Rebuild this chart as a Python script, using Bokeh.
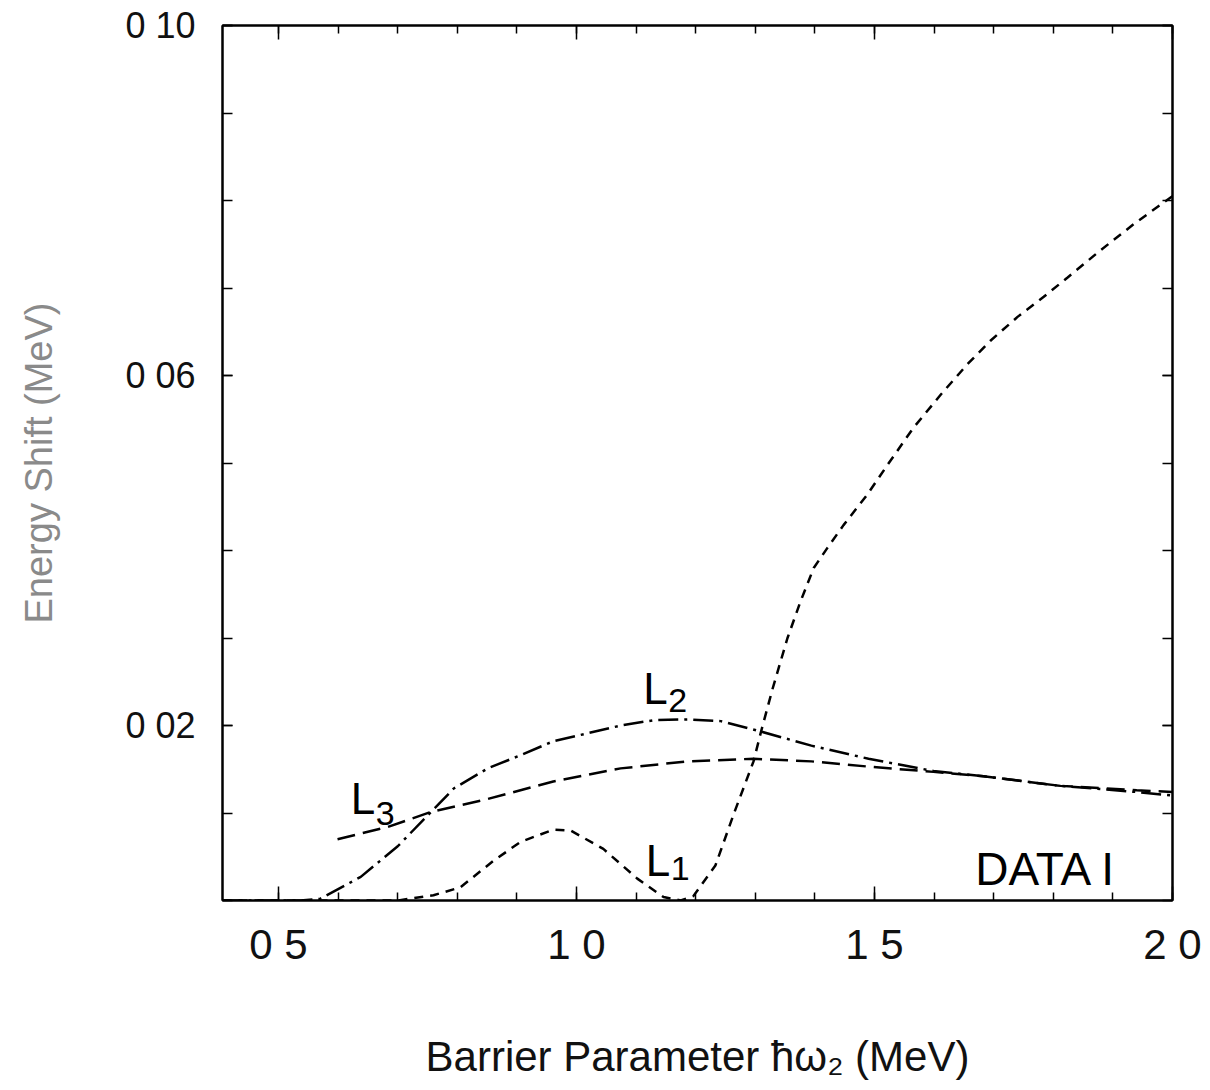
from bokeh.plotting import figure
from bokeh.models import FixedTicker, LinearAxis, Label, Range1d
from bokeh.embed import file_html
from bokeh.resources import INLINE

# ---- data ----
l1_x = [0.406, 0.70, 0.76, 0.805, 0.86, 0.906, 0.961, 0.99, 1.045, 1.102, 1.146, 1.175,
        1.196, 1.233, 1.265, 1.297, 1.31, 1.329, 1.354, 1.376, 1.398, 1.421, 1.448, 1.488,
        1.522, 1.565, 1.611, 1.656, 1.695, 1.74, 1.784, 1.824, 1.879, 1.935, 2.0]
l1_y = [0.0, 0.0, 0.0006, 0.0015, 0.0045, 0.0067, 0.0081, 0.0080, 0.0059, 0.0025, 0.0004, 0.0,
        0.0005, 0.0040, 0.0101, 0.0159, 0.0194, 0.0242, 0.0300, 0.0342, 0.0380, 0.0403, 0.0429, 0.0464,
        0.0498, 0.0540, 0.0578, 0.0613, 0.0640, 0.0667, 0.0690, 0.0712, 0.0743, 0.0773, 0.0805]

l2_x = [0.406, 0.537, 0.570, 0.638, 0.700, 0.750, 0.794, 0.851, 0.906, 0.961, 1.018, 1.074,
        1.129, 1.186, 1.242, 1.310, 1.394, 1.490, 1.599, 1.683, 1.812, 1.940, 2.0]
l2_y = [0.0, 0.0, 0.0002, 0.0027, 0.0062, 0.0097, 0.0128, 0.0151, 0.0166, 0.0182, 0.0191, 0.0200,
        0.0206, 0.0207, 0.0205, 0.0193, 0.0177, 0.0162, 0.0148, 0.0142, 0.0131, 0.0124, 0.0120]

l3_x = [0.599, 0.683, 0.755, 0.851, 0.961, 1.074, 1.186, 1.297, 1.394, 1.490, 1.599, 1.683,
        1.812, 1.940, 2.0]
l3_y = [0.0070, 0.0084, 0.0101, 0.0116, 0.0136, 0.0151, 0.0159, 0.0162, 0.0159, 0.0153, 0.0147, 0.0142,
        0.0131, 0.0126, 0.0124]

x_major = [0.5, 1.0, 1.5, 2.0]
x_labels = ["0 5", "1 0", "1 5", "2 0"]
x_minor = [round(0.4 + 0.1 * i, 2) for i in range(17)]
y_major = [0.02, 0.06, 0.10]
y_labels = ["0 02", "0 06", "0 10"]
y_minor = [round(0.01 * i, 2) for i in range(11)]

FONT = "Liberation Sans"

p = figure(frame_width=950, frame_height=875,
           x_range=Range1d(0.406, 2.0), y_range=Range1d(0.0, 0.1),
           min_border_left=222, min_border_right=30, min_border_top=25, min_border_bottom=170,
           output_backend="svg", toolbar_location=None,
           background_fill_color="white", border_fill_color="white")
p.grid.visible = False
p.outline_line_color = "black"
p.outline_line_width = 2

p.line(l1_x, l1_y, line_color="black", line_width=2.5, line_dash="9 7")
p.line(l2_x, l2_y, line_color="black", line_width=2.5, line_dash="20 6 3 6")
p.line(l3_x, l3_y, line_color="black", line_width=2.5, line_dash="18 8")

def style_axis(ax, ticker, major_in, minor_in):
    ax.ticker = ticker
    ax.axis_line_color = "black"
    ax.axis_line_width = 2
    ax.major_tick_in = major_in
    ax.major_tick_out = 0
    ax.minor_tick_in = minor_in
    ax.minor_tick_out = 0
    ax.major_tick_line_width = 1.5
    ax.minor_tick_line_width = 1.5
    ax.major_tick_line_color = "black"
    ax.minor_tick_line_color = "black"

xa = p.xaxis[0]
style_axis(xa, FixedTicker(ticks=x_major, minor_ticks=x_minor), 14, 8)
xa.major_label_overrides = {t: l for t, l in zip(x_major, x_labels)}
xa.major_label_text_font = FONT
xa.major_label_text_font_size = "42px"
xa.major_label_text_color = "#111111"
xa.major_label_standoff = 20
xa.axis_label = "Barrier Parameter ħω₂ (MeV)"
xa.axis_label_text_font = FONT
xa.axis_label_text_font_size = "42px"
xa.axis_label_text_font_style = "normal"
xa.axis_label_text_color = "#111111"
xa.axis_label_standoff = 62

ya = p.yaxis[0]
style_axis(ya, FixedTicker(ticks=y_major, minor_ticks=y_minor), 10, 10)
ya.major_label_overrides = {t: l for t, l in zip(y_major, y_labels)}
ya.major_label_text_font = FONT
ya.major_label_text_font_size = "36px"
ya.major_label_text_color = "#111111"
ya.major_label_standoff = 27
ya.axis_label = "Energy Shift (MeV)"
ya.axis_label_text_font = FONT
ya.axis_label_text_font_size = "38px"
ya.axis_label_text_font_style = "normal"
ya.axis_label_text_color = "#8a8a8a"
ya.axis_label_standoff = 62

top = LinearAxis()
style_axis(top, FixedTicker(ticks=x_major, minor_ticks=x_minor), 14, 8)
top.major_label_overrides = {t: "" for t in x_major}
top.major_label_standoff = 0
p.add_layout(top, "above")

right = LinearAxis()
style_axis(right, FixedTicker(ticks=y_major, minor_ticks=y_minor), 10, 10)
right.major_label_overrides = {t: "" for t in y_major}
right.major_label_standoff = 0
p.add_layout(right, "right")

def lab(x, y, t, size):
    p.add_layout(Label(x=x, y=y, text=t, text_font=FONT, text_font_size=size,
                       text_color="black", text_baseline="alphabetic", text_align="left"))

lab(0.621, 0.01163, "L", "44px")
lab(0.663, 0.0099, "3", "34px")
lab(1.112, 0.02424, "L", "44px")
lab(1.154, 0.02287, "2", "34px")
lab(1.116, 0.00453, "L", "44px")
lab(1.158, 0.00361, "1", "34px")
lab(1.669, 0.00361, "DATA I", "46px")

open("out.html", "w").write(file_html(p, INLINE))
